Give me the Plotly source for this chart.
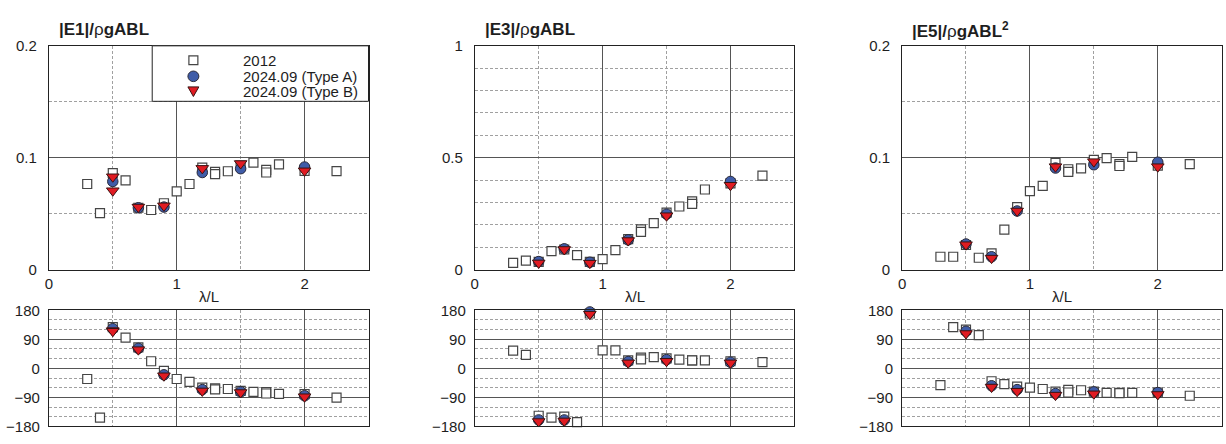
import plotly.graph_objects as go

# ---------------------------------------------------------------------------
# Data: wave-exciting force components vs. wavelength ratio (lambda/L)
# ---------------------------------------------------------------------------
X_2012 = [0.3, 0.4, 0.5, 0.6, 0.7, 0.8, 0.9, 1.0, 1.1, 1.2,
          1.3, 1.3, 1.4, 1.5, 1.6, 1.7, 1.7, 1.8, 2.0, 2.25]
X_TYPE_A = [0.5, 0.7, 0.9, 1.2, 1.5, 2.0]
X_TYPE_B = [0.5, 0.7, 0.9, 1.2, 1.5, 2.0]
X_TYPE_B_E1 = [0.5, 0.5, 0.7, 0.9, 1.2, 1.5, 2.0]

# |E1| amplitude and phase (deg)
E1_AMP_2012 = [0.0765, 0.0505, 0.0862, 0.0797, 0.0553, 0.0533, 0.0593, 0.0699, 0.0765, 0.0911,
               0.0874, 0.0854, 0.0879, 0.0930, 0.0957, 0.0891, 0.0868, 0.0940, 0.0883, 0.0880]
E1_AMP_A = [0.0788, 0.0553, 0.0559, 0.0868, 0.0902, 0.0917]
E1_AMP_B = [0.0830, 0.0705, 0.0559, 0.0570, 0.0905, 0.0948, 0.0883]
E1_PH_2012 = [-33, -153, 128, 95, 65, 22, -8, -33, -42, -60,
              -62, -65, -64, -70, -73, -74, -78, -79, -80, -91]
E1_PH_A = [123, 62, -20, -66, -73, -85]
E1_PH_B = [117, 115, 58, -23, -70, -75, -88]

# |E3| amplitude and phase (deg)
E3_AMP_2012 = [0.030, 0.040, 0.035, 0.083, 0.090, 0.0645, 0.035, 0.047, 0.087, 0.136,
               0.180, 0.169, 0.208, 0.255, 0.282, 0.305, 0.294, 0.358, 0.385, 0.420]
E3_AMP_A = [0.036, 0.093, 0.033, 0.133, 0.248, 0.394]
E3_AMP_B = [0.030, 0.090, 0.029, 0.130, 0.241, 0.377]
E3_PH_2012 = [55, 42, -147, -153, -150, -167, 170, 56, 56, 25,
              33, 28, 35, 31, 27, 25, 25, 25, 22, 19]
E3_PH_A = [-160, -160, 175, 21, 27, 19]
E3_PH_B = [-165, -163, 168, 17, 22, 17]

# |E5| amplitude and phase (deg)
E5_AMP_2012 = [0.0115, 0.0115, 0.0220, 0.0106, 0.0146, 0.0358, 0.0559, 0.0702, 0.0748, 0.0954,
               0.0897, 0.0874, 0.0905, 0.0980, 0.0997, 0.0943, 0.0926, 0.1008, 0.0930, 0.0943]
E5_AMP_A = [0.0229, 0.0115, 0.0524, 0.0908, 0.0937, 0.0960]
E5_AMP_B = [0.0223, 0.0103, 0.0524, 0.0920, 0.0965, 0.0920]
E5_PH_2012 = [-52, 128, 120, 103, -40, -49, -57, -60, -64, -72,
              -67, -75, -68, -72, -76, -76, -77, -76, -75, -85]
E5_PH_A = [115, -54, -66, -78, -73, -75]
E5_PH_B = [108, -58, -71, -83, -79, -81]

TITLES = ['<b>|E1|/</b>ρ<b>gABL</b>',
          '<b>|E3|/</b>ρ<b>gABL</b>',
          '<b>|E5|/</b>ρ<b>gABL<sup>2</sup></b>']
SERIES_NAMES = ['2012', '2024.09 (Type A)', '2024.09 (Type B)']

# ---------------------------------------------------------------------------
# Layout geometry (pixels) and styling
# ---------------------------------------------------------------------------
FIG_W, FIG_H = 1226, 444
PANEL_LEFT_PX = [45.0, 472.3, 901.0]
PANEL_W_PX = 320.7
AMP_TOP_PX, AMP_BOTTOM_PX = 38.3, 271.0
PH_TOP_PX, PH_BOTTOM_PX = 313.3, 434.0


def fx(px):
    return px / FIG_W


def fy(py):
    return 1.0 - py / FIG_H


FONT = 'Liberation Sans, Arial, Helvetica, sans-serif'
TEXT = '#1e1e1e'
MAJOR = '#555555'
MINOR = '#a0a0a0'
FRAME = '#222222'
DASH = '3px,2px'

SQ_COLOR, SQ_LINE = 'white', '#454545'
A_COLOR, A_LINE = '#3f5ca8', '#2b2b3a'
B_COLOR, B_LINE = '#e01b22', '#3b1212'

STYLE_2012 = dict(symbol='square', size=9, color=SQ_COLOR, line=dict(color=SQ_LINE, width=1.2))
STYLE_A = dict(symbol='circle', size=10.5, color=A_COLOR, line=dict(color=A_LINE, width=1))
STYLE_B = dict(symbol='triangle-down', size=11, color=B_COLOR, line=dict(color=B_LINE, width=1))

panels = [
    dict(amp=(E1_AMP_2012, E1_AMP_A, E1_AMP_B), ph=(E1_PH_2012, E1_PH_A, E1_PH_B),
         xb=X_TYPE_B_E1, yrange=[0, 0.2], dtick=0.1, minor=0.05),
    dict(amp=(E3_AMP_2012, E3_AMP_A, E3_AMP_B), ph=(E3_PH_2012, E3_PH_A, E3_PH_B),
         xb=X_TYPE_B, yrange=[0, 1.0], dtick=0.5, minor=0.1),
    dict(amp=(E5_AMP_2012, E5_AMP_A, E5_AMP_B), ph=(E5_PH_2012, E5_PH_A, E5_PH_B),
         xb=X_TYPE_B, yrange=[0, 0.2], dtick=0.1, minor=0.05),
]

fig = go.Figure()
layout = {}
annotations = []


def axis_id(n):
    return '' if n == 1 else str(n)


def x_axis(domain, show_labels):
    return dict(domain=domain, range=[0, 2.5], tick0=0, dtick=1,
                showgrid=True, gridcolor=MAJOR, gridwidth=1,
                minor=dict(dtick=0.5, tick0=0, showgrid=True, gridcolor=MINOR,
                           griddash=DASH, gridwidth=1),
                showline=True, mirror=True, linecolor=FRAME, linewidth=1,
                zeroline=False, ticks='', showticklabels=show_labels,
                tickfont=dict(family=FONT, size=15, color=TEXT),
                fixedrange=True)


def y_axis(domain, anchor, rng, dtick, minor, standoff):
    return dict(domain=domain, anchor=anchor, range=rng, tick0=rng[0], dtick=dtick,
                showgrid=True, gridcolor=MAJOR, gridwidth=1,
                minor=dict(dtick=minor, tick0=rng[0], showgrid=True, gridcolor=MINOR,
                           griddash=DASH, gridwidth=1),
                showline=True, mirror=True, linecolor=FRAME, linewidth=1,
                zeroline=False, ticks='', ticklabelstandoff=standoff,
                tickfont=dict(family=FONT, size=15, color=TEXT),
                fixedrange=True)


for i, p in enumerate(panels):
    left = PANEL_LEFT_PX[i]
    xdom = [fx(left), fx(left + PANEL_W_PX)]
    top_n, bot_n = i + 1, i + 4
    top_x, top_y = 'x' + axis_id(top_n), 'y' + axis_id(top_n)
    bot_x, bot_y = 'x' + axis_id(bot_n), 'y' + axis_id(bot_n)

    layout['xaxis' + axis_id(top_n)] = dict(x_axis(xdom, True), anchor=top_y)
    layout['yaxis' + axis_id(top_n)] = y_axis([fy(AMP_BOTTOM_PX), fy(AMP_TOP_PX)], top_x,
                                              p['yrange'], p['dtick'], p['minor'], 8)
    layout['xaxis' + axis_id(bot_n)] = dict(x_axis(xdom, False), anchor=bot_y)
    layout['yaxis' + axis_id(bot_n)] = y_axis([fy(PH_BOTTOM_PX), fy(PH_TOP_PX)], bot_x,
                                              [-180, 180], 90, 30, 5)

    xs = (X_2012, X_TYPE_A, p['xb'])
    styles = (STYLE_2012, STYLE_A, STYLE_B)
    for rows, xa, ya in ((p['amp'], top_x, top_y), (p['ph'], bot_x, bot_y)):
        for name, xv, yv, st in zip(SERIES_NAMES, xs, rows, styles):
            fig.add_trace(go.Scatter(x=xv, y=yv, mode='markers', name=name,
                                     marker=st, xaxis=xa, yaxis=ya,
                                     showlegend=False, cliponaxis=False))

    # panel title
    annotations.append(dict(text=TITLES[i], xref='paper', yref='paper',
                            x=fx(left + 8), y=fy(21.5), xanchor='left', yanchor='middle',
                            showarrow=False, font=dict(family=FONT, size=17, color=TEXT)))
    # x-axis title
    annotations.append(dict(text='λ/L', xref='paper', yref='paper',
                            x=fx(left + PANEL_W_PX / 2), y=fy(298.5),
                            xanchor='center', yanchor='middle', showarrow=False,
                            font=dict(family=FONT, size=15, color=TEXT)))

# ---------------------------------------------------------------------------
# Key box in the first panel
# ---------------------------------------------------------------------------
KEY_L, KEY_R, KEY_T, KEY_B = 148.7, PANEL_LEFT_PX[0] + PANEL_W_PX, AMP_TOP_PX, 96.0
KEY_SYM_X, KEY_TEXT_X = 190.0, 238.0
KEY_ROWS = [53.3, 70.0, 86.0]

shapes = [dict(type='rect', xref='paper', yref='paper', layer='above',
               x0=fx(KEY_L), x1=fx(KEY_R), y0=fy(KEY_B), y1=fy(KEY_T),
               fillcolor='white', line=dict(color=FRAME, width=1))]

r_sq, r_ci, tw, th = 4.5, 5.5, 5.5, 10.0
cy0, cy1, cy2 = KEY_ROWS
shapes.append(dict(type='rect', xref='paper', yref='paper', layer='above',
                   x0=fx(KEY_SYM_X - r_sq), x1=fx(KEY_SYM_X + r_sq),
                   y0=fy(cy0 + r_sq), y1=fy(cy0 - r_sq),
                   fillcolor=SQ_COLOR, line=dict(color=SQ_LINE, width=1.2)))
shapes.append(dict(type='circle', xref='paper', yref='paper', layer='above',
                   x0=fx(KEY_SYM_X - r_ci), x1=fx(KEY_SYM_X + r_ci),
                   y0=fy(cy1 + r_ci), y1=fy(cy1 - r_ci),
                   fillcolor=A_COLOR, line=dict(color=A_LINE, width=1)))
tri = 'M{:.5f},{:.5f} L{:.5f},{:.5f} L{:.5f},{:.5f} Z'.format(
    fx(KEY_SYM_X - tw), fy(cy2 - th / 2), fx(KEY_SYM_X + tw), fy(cy2 - th / 2),
    fx(KEY_SYM_X), fy(cy2 + th / 2))
shapes.append(dict(type='path', xref='paper', yref='paper', layer='above', path=tri,
                   fillcolor=B_COLOR, line=dict(color=B_LINE, width=1)))

for name, cy in zip(SERIES_NAMES, KEY_ROWS):
    annotations.append(dict(text=name, xref='paper', yref='paper',
                            x=fx(KEY_TEXT_X), y=fy(cy), xanchor='left', yanchor='middle',
                            showarrow=False, font=dict(family=FONT, size=15, color=TEXT)))

fig.update_layout(
    width=FIG_W, height=FIG_H, autosize=False,
    margin=dict(l=0, r=0, t=0, b=0),
    paper_bgcolor='white', plot_bgcolor='white',
    showlegend=False,
    annotations=annotations, shapes=shapes,
    **layout,
)

fig.write_html('out.html', config={'displayModeBar': False})
